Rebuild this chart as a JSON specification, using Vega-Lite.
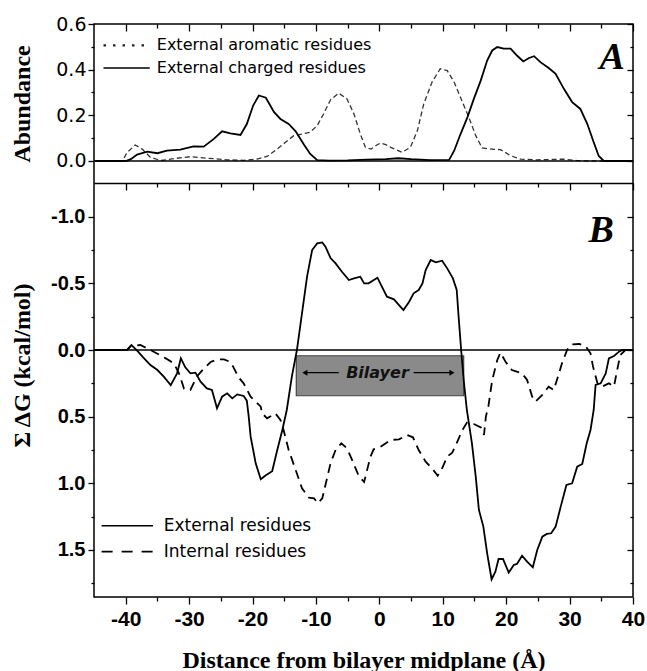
{
 "$schema": "https://vega.github.io/schema/vega-lite/v6.json",
 "width": 539, "height": 573,
 "autosize": {"type": "none"},
 "padding": {"left": 94, "top": 24, "right": 14, "bottom": 74},
 "background": "white",
 "config": {
  "view": {"stroke": "black", "strokeWidth": 1.5},
  "axis": {"grid": false, "domain": false, "tickColor": "black", "tickWidth": 1.3, "labelColor": "black", "titleColor": "black", "labelOverlap": false, "labelFlush": false, "labelBound": false}
 },
 "datasets": {
  "aromatic": [
   {"x":-45,"y":0},{"x":-40.5,"y":0},{"x":-39.8,"y":0.037},{"x":-38.5,"y":0.07},{"x":-37.4,"y":0.052},{"x":-36.1,"y":0.016},{"x":-34.5,"y":0.002},{"x":-31.9,"y":0.012},{"x":-29.8,"y":0.019},{"x":-27,"y":0.012},{"x":-24,"y":0.005},{"x":-21.4,"y":0.003},{"x":-19.3,"y":0.008},{"x":-17.7,"y":0.02},{"x":-16.1,"y":0.053},{"x":-14.8,"y":0.082},{"x":-13.5,"y":0.111},{"x":-12.2,"y":0.118},{"x":-10.9,"y":0.126},{"x":-9.8,"y":0.155},{"x":-8.8,"y":0.206},{"x":-7.7,"y":0.268},{"x":-6.4,"y":0.297},{"x":-5.1,"y":0.272},{"x":-4.0,"y":0.206},{"x":-3.0,"y":0.118},{"x":-2.2,"y":0.06},{"x":-1.3,"y":0.052},{"x":-0.4,"y":0.07},{"x":0.2,"y":0.079},{"x":1.0,"y":0.072},{"x":1.8,"y":0.06},{"x":3.6,"y":0.038},{"x":4.9,"y":0.06},{"x":6.0,"y":0.133},{"x":7.0,"y":0.25},{"x":8.3,"y":0.345},{"x":9.6,"y":0.404},{"x":10.7,"y":0.396},{"x":11.8,"y":0.345},{"x":13.1,"y":0.258},{"x":14.1,"y":0.192},{"x":15.2,"y":0.111},{"x":16.2,"y":0.057},{"x":18.1,"y":0.051},{"x":19.1,"y":0.05},{"x":20.7,"y":0.023},{"x":22.3,"y":0.008},{"x":24.9,"y":0.005},{"x":29.1,"y":0.008},{"x":31.2,"y":0.002},{"x":33,"y":0},{"x":40,"y":0}
  ],
  "charged": [
   {"x":-45,"y":0},{"x":-40,"y":0},{"x":-39.2,"y":0.008},{"x":-38.2,"y":0.028},{"x":-36.6,"y":0.041},{"x":-35.0,"y":0.034},{"x":-33.5,"y":0.045},{"x":-31.4,"y":0.05},{"x":-29.3,"y":0.064},{"x":-27.7,"y":0.063},{"x":-26.1,"y":0.097},{"x":-24.8,"y":0.13},{"x":-23.5,"y":0.121},{"x":-21.9,"y":0.114},{"x":-20.9,"y":0.162},{"x":-19.9,"y":0.243},{"x":-19.0,"y":0.287},{"x":-17.9,"y":0.277},{"x":-16.6,"y":0.214},{"x":-15.6,"y":0.184},{"x":-14.3,"y":0.162},{"x":-13.2,"y":0.13},{"x":-11.9,"y":0.072},{"x":-10.9,"y":0.031},{"x":-9.8,"y":0.004},{"x":-8,"y":0.002},{"x":-5,"y":0.003},{"x":-2,"y":0.006},{"x":1,"y":0.008},{"x":3,"y":0.012},{"x":5,"y":0.008},{"x":8,"y":0.004},{"x":11.0,"y":0.005},{"x":11.8,"y":0.045},{"x":12.8,"y":0.118},{"x":13.9,"y":0.192},{"x":14.9,"y":0.272},{"x":16.0,"y":0.353},{"x":17.0,"y":0.44},{"x":17.8,"y":0.484},{"x":18.6,"y":0.499},{"x":19.6,"y":0.492},{"x":20.7,"y":0.492},{"x":21.7,"y":0.462},{"x":22.7,"y":0.436},{"x":23.6,"y":0.451},{"x":24.4,"y":0.459},{"x":25.4,"y":0.433},{"x":26.7,"y":0.407},{"x":27.8,"y":0.382},{"x":29.1,"y":0.316},{"x":30.4,"y":0.258},{"x":31.7,"y":0.228},{"x":32.8,"y":0.162},{"x":33.8,"y":0.082},{"x":34.6,"y":0.022},{"x":35.4,"y":0},{"x":40,"y":0}
  ],
  "external": [
   {"x":-45,"y":0},{"x":-39.8,"y":0},{"x":-39.1,"y":-0.0375},{"x":-38.2,"y":0.005},{"x":-37.1,"y":0.063},{"x":-36.1,"y":0.113},{"x":-35.0,"y":0.15},{"x":-34.0,"y":0.2},{"x":-32.9,"y":0.263},{"x":-31.9,"y":0.175},{"x":-31.3,"y":0.063},{"x":-30.6,"y":0.13},{"x":-29.8,"y":0.175},{"x":-29.0,"y":0.17},{"x":-28.2,"y":0.238},{"x":-27.2,"y":0.288},{"x":-26.4,"y":0.3},{"x":-25.6,"y":0.4375},{"x":-24.8,"y":0.35},{"x":-24.0,"y":0.325},{"x":-23.2,"y":0.363},{"x":-22.4,"y":0.333},{"x":-21.4,"y":0.345},{"x":-20.9,"y":0.38},{"x":-20.6,"y":0.5},{"x":-20.3,"y":0.65},{"x":-19.5,"y":0.85},{"x":-18.7,"y":0.97},{"x":-17.9,"y":0.94},{"x":-16.9,"y":0.91},{"x":-16.1,"y":0.75},{"x":-15.3,"y":0.6},{"x":-14.6,"y":0.45},{"x":-13.8,"y":0.2},{"x":-13.0,"y":0},{"x":-12.2,"y":-0.275},{"x":-11.4,"y":-0.55},{"x":-10.6,"y":-0.75},{"x":-9.8,"y":-0.8},{"x":-9.0,"y":-0.807},{"x":-8.5,"y":-0.775},{"x":-7.7,"y":-0.69},{"x":-6.9,"y":-0.65},{"x":-5.9,"y":-0.5875},{"x":-4.8,"y":-0.525},{"x":-4.0,"y":-0.5375},{"x":-3.0,"y":-0.55},{"x":-2.4,"y":-0.5},{"x":-1.7,"y":-0.5},{"x":-0.3,"y":-0.5425},{"x":0.4,"y":-0.475},{"x":1.2,"y":-0.4},{"x":2.3,"y":-0.38},{"x":3.1,"y":-0.3375},{"x":3.8,"y":-0.3},{"x":4.7,"y":-0.3625},{"x":5.4,"y":-0.425},{"x":6.2,"y":-0.45},{"x":6.8,"y":-0.5},{"x":7.3,"y":-0.6},{"x":8.1,"y":-0.675},{"x":8.9,"y":-0.6575},{"x":9.9,"y":-0.67},{"x":10.7,"y":-0.6125},{"x":11.6,"y":-0.5375},{"x":12.2,"y":-0.45},{"x":12.5,"y":-0.25},{"x":12.9,"y":0},{"x":13.3,"y":0.225},{"x":13.8,"y":0.45},{"x":14.6,"y":0.7},{"x":15.2,"y":0.95},{"x":15.7,"y":1.2},{"x":16.4,"y":1.325},{"x":17.0,"y":1.525},{"x":17.7,"y":1.72},{"x":18.3,"y":1.663},{"x":18.8,"y":1.568},{"x":19.5,"y":1.568},{"x":20.4,"y":1.67},{"x":21.2,"y":1.613},{"x":21.7,"y":1.605},{"x":22.5,"y":1.543},{"x":23.3,"y":1.588},{"x":24.2,"y":1.63},{"x":24.9,"y":1.5},{"x":25.7,"y":1.4},{"x":26.4,"y":1.38},{"x":27.1,"y":1.375},{"x":27.8,"y":1.325},{"x":28.6,"y":1.175},{"x":29.5,"y":1.0125},{"x":30.4,"y":1.0},{"x":31.2,"y":0.875},{"x":32.0,"y":0.855},{"x":32.7,"y":0.7},{"x":33.3,"y":0.6},{"x":33.8,"y":0.45},{"x":34.1,"y":0.2625},{"x":34.9,"y":0.25},{"x":35.7,"y":0.175},{"x":36.2,"y":0.0625},{"x":37.0,"y":0.045},{"x":37.8,"y":0.0125},{"x":38.3,"y":0},{"x":40,"y":0}
  ],
  "internal": [
   {"x":-45,"y":0},{"x":-39.8,"y":0},{"x":-39.2,"y":-0.03},{"x":-37.7,"y":-0.0375},{"x":-36.6,"y":-0.0125},{"x":-35.3,"y":0.02},{"x":-33.7,"y":0.0625},{"x":-32.4,"y":0.1},{"x":-31.6,"y":0.175},{"x":-30.8,"y":0.29},{"x":-29.8,"y":0.3},{"x":-28.8,"y":0.2},{"x":-27.7,"y":0.14},{"x":-26.6,"y":0.09},{"x":-25.5,"y":0.07},{"x":-24.5,"y":0.07},{"x":-23.5,"y":0.09},{"x":-23.0,"y":0.13},{"x":-22.2,"y":0.205},{"x":-21.4,"y":0.25},{"x":-20.3,"y":0.35},{"x":-18.7,"y":0.425},{"x":-18.5,"y":0.475},{"x":-17.7,"y":0.5125},{"x":-16.4,"y":0.475},{"x":-15.6,"y":0.525},{"x":-15.1,"y":0.6},{"x":-14.3,"y":0.75},{"x":-13.2,"y":0.9},{"x":-12.2,"y":1.0375},{"x":-11.1,"y":1.108},{"x":-10.3,"y":1.1125},{"x":-9.7,"y":1.15},{"x":-9.0,"y":1.1125},{"x":-8.5,"y":1.0125},{"x":-7.7,"y":0.85},{"x":-6.9,"y":0.75},{"x":-6.0,"y":0.7},{"x":-5.1,"y":0.7375},{"x":-4.3,"y":0.825},{"x":-3.2,"y":0.95},{"x":-2.4,"y":0.99},{"x":-1.8,"y":0.875},{"x":-1.4,"y":0.8},{"x":-0.9,"y":0.745},{"x":0.2,"y":0.725},{"x":1.8,"y":0.675},{"x":3.1,"y":0.67},{"x":4.4,"y":0.6375},{"x":5.3,"y":0.655},{"x":6.2,"y":0.75},{"x":7.3,"y":0.8375},{"x":8.3,"y":0.8875},{"x":9.2,"y":0.943},{"x":9.9,"y":0.8875},{"x":10.7,"y":0.8},{"x":11.5,"y":0.77},{"x":12.3,"y":0.6875},{"x":13.1,"y":0.6},{"x":13.8,"y":0.545},{"x":14.9,"y":0.555},{"x":16.0,"y":0.58},{"x":16.5,"y":0.6375},{"x":16.8,"y":0.5},{"x":17.2,"y":0.42},{"x":17.8,"y":0.225},{"x":18.6,"y":0.075},{"x":19.1,"y":0.02},{"x":19.9,"y":0.0875},{"x":20.9,"y":0.15},{"x":22.5,"y":0.175},{"x":23.3,"y":0.225},{"x":24.1,"y":0.35},{"x":24.6,"y":0.3875},{"x":25.7,"y":0.3375},{"x":26.7,"y":0.275},{"x":27.5,"y":0.3},{"x":28.0,"y":0.225},{"x":28.8,"y":0.1},{"x":29.6,"y":0},{"x":30.4,"y":-0.0425},{"x":31.5,"y":-0.045},{"x":32.5,"y":-0.03},{"x":33.3,"y":0.025},{"x":33.7,"y":0.125},{"x":34.4,"y":0.25},{"x":35.1,"y":0.275},{"x":36.2,"y":0.25},{"x":37.0,"y":0.275},{"x":37.5,"y":0.15},{"x":38.0,"y":0.0375},{"x":38.8,"y":0},{"x":40,"y":0}
  ],
  "legendLinesA": [
   {"x":-43.5,"x2":-36.2,"y":0.506,"s":"dot"},
   {"x":-43.5,"x2":-36.2,"y":0.407,"s":"solid"}
  ],
  "legendTextA": [
   {"x":-35.1,"y":0.506,"t":"External aromatic residues"},
   {"x":-35.1,"y":0.407,"t":"External charged residues"}
  ],
  "legendLinesB": [
   {"x":-43.8,"x2":-35.7,"y":1.318,"s":"solid"},
   {"x":-43.8,"x2":-35.7,"y":1.513,"s":"dash"}
  ],
  "legendTextB": [
   {"x":-34.0,"y":1.318,"t":"External residues"},
   {"x":-34.0,"y":1.513,"t":"Internal residues"}
  ]
 },
 "layer": [
  {
   "layer": [
    {
     "data": {"name": "aromatic"},
     "mark": {"type": "line", "stroke": "#333", "strokeWidth": 1.3, "strokeDash": [5, 3]},
     "encoding": {
      "x": {"field": "x", "type": "quantitative", "scale": {"domain": [-45, 40], "nice": false, "zero": false},
            "axis": {"orient": "top", "values": [-40,-35,-30,-25,-20,-15,-10,-5,0,5,10,15,20,25,30,35,40], "labels": false, "tickSize": -7,
                     "tickDash": {"condition": {"test": "datum.value % 10 === 0", "value": [8, 0]}, "value": [4, 20]}, "title": null}},
      "y": {"field": "y", "type": "quantitative", "scale": {"domain": [-0.0964, 0.6], "range": [159, 0], "nice": false, "zero": false},
            "axis": {"orient": "left", "values": [0,0.1,0.2,0.3,0.4,0.5,0.6], "tickSize": 6,
                     "tickDash": {"condition": {"test": "abs(datum.value*5-round(datum.value*5))<0.001", "value": [8, 0]}, "value": [3, 20]},
                     "labelExpr": "abs(datum.value*5-round(datum.value*5))<0.001 ? format(datum.value, '.1f') : ''",
                     "labelFont": "DejaVu Sans", "labelFontSize": 19, "labelPadding": 2,
                     "title": "Abundance", "titleFont": "Liberation Serif", "titleFontSize": 24, "titleFontWeight": "bold",
                     "titleX": -72, "titleBaseline": "middle"}}
     }
    },
    {
     "data": {"name": "charged"},
     "mark": {"type": "line", "stroke": "black", "strokeWidth": 1.8},
     "encoding": {
      "x": {"field": "x", "type": "quantitative", "scale": {"domain": [-45, 40], "nice": false, "zero": false}, "axis": null},
      "y": {"field": "y", "type": "quantitative", "scale": {"domain": [-0.0964, 0.6], "range": [159, 0], "nice": false, "zero": false},
            "axis": {"orient": "right", "values": [0,0.1,0.2,0.3,0.4,0.5,0.6], "labels": false, "tickSize": -6,
                     "tickDash": {"condition": {"test": "abs(datum.value*5-round(datum.value*5))<0.001", "value": [8, 0]}, "value": [3, 20]}, "title": null}}
     }
    },
    {
     "data": {"values": [{}]},
     "mark": {"type": "rule", "color": "black", "strokeWidth": 1.5},
     "encoding": {
      "y": {"datum": 0, "type": "quantitative", "scale": {"domain": [-0.0964, 0.6], "range": [159, 0], "nice": false, "zero": false}, "axis": null}
     }
    },
    {
     "data": {"name": "legendLinesA"},
     "transform": [{"filter": "datum.s === 'dot'"}],
     "mark": {"type": "rule", "color": "#222", "strokeWidth": 2.2, "strokeDash": [2.5, 7]},
     "encoding": {
      "x": {"field": "x", "type": "quantitative", "scale": {"domain": [-45, 40], "nice": false, "zero": false}, "axis": null},
      "x2": {"field": "x2"},
      "y": {"field": "y", "type": "quantitative", "scale": {"domain": [-0.0964, 0.6], "range": [159, 0], "nice": false, "zero": false}, "axis": null}
     }
    },
    {
     "data": {"name": "legendLinesA"},
     "transform": [{"filter": "datum.s === 'solid'"}],
     "mark": {"type": "rule", "color": "black", "strokeWidth": 1.6},
     "encoding": {
      "x": {"field": "x", "type": "quantitative", "scale": {"domain": [-45, 40], "nice": false, "zero": false}, "axis": null},
      "x2": {"field": "x2"},
      "y": {"field": "y", "type": "quantitative", "scale": {"domain": [-0.0964, 0.6], "range": [159, 0], "nice": false, "zero": false}, "axis": null}
     }
    },
    {
     "data": {"name": "legendTextA"},
     "mark": {"type": "text", "align": "left", "baseline": "middle", "font": "DejaVu Sans", "fontSize": 16, "color": "black"},
     "encoding": {
      "x": {"field": "x", "type": "quantitative", "scale": {"domain": [-45, 40], "nice": false, "zero": false}, "axis": null},
      "y": {"field": "y", "type": "quantitative", "scale": {"domain": [-0.0964, 0.6], "range": [159, 0], "nice": false, "zero": false}, "axis": null},
      "text": {"field": "t"}
     }
    },
    {
     "data": {"values": [{"x": 36.7, "y": 0.404, "t": "A"}]},
     "mark": {"type": "text", "align": "center", "baseline": "alphabetic", "font": "Liberation Serif", "fontSize": 38, "fontWeight": "bold", "fontStyle": "italic", "color": "black"},
     "encoding": {
      "x": {"field": "x", "type": "quantitative", "scale": {"domain": [-45, 40], "nice": false, "zero": false}, "axis": null},
      "y": {"field": "y", "type": "quantitative", "scale": {"domain": [-0.0964, 0.6], "range": [159, 0], "nice": false, "zero": false}, "axis": null},
      "text": {"field": "t"}
     }
    }
   ],
   "resolve": {"axis": {"x": "independent", "y": "independent"}}
  },
  {
   "layer": [
    {
     "data": {"values": [{"x": -13.1, "x2": 13.3, "y": 0.043, "y2": 0.343}]},
     "mark": {"type": "rect", "fill": "#8a8a8a", "stroke": "#444", "strokeWidth": 1.2},
     "encoding": {
      "x": {"field": "x", "type": "quantitative", "scale": {"domain": [-45, 40], "nice": false, "zero": false}, "axis": null},
      "x2": {"field": "x2"},
      "y": {"field": "y", "type": "quantitative", "scale": {"domain": [-1.253, 1.853], "range": [159, 573], "nice": false, "zero": false}, "axis": null},
      "y2": {"field": "y2"}
     }
    },
    {
     "data": {"name": "external"},
     "mark": {"type": "line", "stroke": "black", "strokeWidth": 1.8},
     "encoding": {
      "x": {"field": "x", "type": "quantitative", "scale": {"domain": [-45, 40], "nice": false, "zero": false},
            "axis": {"orient": "bottom", "values": [-40,-35,-30,-25,-20,-15,-10,-5,0,5,10,15,20,25,30,35,40], "tickSize": 7,
                     "tickDash": {"condition": {"test": "datum.value % 10 === 0", "value": [8, 0]}, "value": [4, 20]},
                     "labelExpr": "datum.value % 10 === 0 ? (datum.value < 0 ? '-' + abs(datum.value) : '' + datum.value) : ''",
                     "labelFont": "Liberation Sans", "labelFontSize": 21, "labelFontWeight": "bold", "labelPadding": 4,
                     "title": "Distance from bilayer midplane (Å)", "titleFont": "Liberation Serif", "titleFontSize": 24, "titleFontWeight": "bold",
                     "titleY": 70, "titleBaseline": "alphabetic"}},
      "y": {"field": "y", "type": "quantitative", "scale": {"domain": [-1.253, 1.853], "range": [159, 573], "nice": false, "zero": false},
            "axis": {"orient": "left", "values": [-1,-0.75,-0.5,-0.25,0,0.25,0.5,0.75,1,1.25,1.5,1.75], "tickSize": 6,
                     "tickDash": {"condition": {"test": "abs(datum.value*2-round(datum.value*2))<0.001", "value": [8, 0]}, "value": [3, 20]},
                     "labelExpr": "abs(datum.value*2-round(datum.value*2))<0.001 ? (datum.value < -0.001 ? '-' : '') + format(abs(datum.value), '.1f') : ''",
                     "labelFont": "Liberation Sans", "labelFontSize": 20, "labelFontWeight": "bold", "labelPadding": 3,
                     "title": "Σ ΔG (kcal/mol)", "titleFont": "Liberation Serif", "titleFontSize": 24, "titleFontWeight": "bold",
                     "titleX": -72, "titleY": 341, "titleBaseline": "middle"}}
     }
    },
    {
     "data": {"name": "internal"},
     "mark": {"type": "line", "stroke": "black", "strokeWidth": 1.8, "strokeDash": [9, 6]},
     "encoding": {
      "x": {"field": "x", "type": "quantitative", "scale": {"domain": [-45, 40], "nice": false, "zero": false},
            "axis": {"orient": "top", "offset": -159, "domain": true, "domainColor": "black", "domainWidth": 1.5,
                     "values": [-40,-35,-30,-25,-20,-15,-10,-5,0,5,10,15,20,25,30,35,40], "labels": false, "tickSize": -7,
                     "tickDash": {"condition": {"test": "datum.value % 10 === 0", "value": [8, 0]}, "value": [4, 20]}, "title": null}},
      "y": {"field": "y", "type": "quantitative", "scale": {"domain": [-1.253, 1.853], "range": [159, 573], "nice": false, "zero": false},
            "axis": {"orient": "right", "values": [-1,-0.75,-0.5,-0.25,0,0.25,0.5,0.75,1,1.25,1.5,1.75], "labels": false, "tickSize": -6,
                     "tickDash": {"condition": {"test": "abs(datum.value*2-round(datum.value*2))<0.001", "value": [8, 0]}, "value": [3, 20]}, "title": null}}
     }
    },
    {
     "data": {"values": [{}]},
     "mark": {"type": "rule", "color": "black", "strokeWidth": 1.5},
     "encoding": {
      "y": {"datum": 0, "type": "quantitative", "scale": {"domain": [-1.253, 1.853], "range": [159, 573], "nice": false, "zero": false}, "axis": null}
     }
    },
    {
     "data": {"values": [{"x": -11.75, "x2": -6.4, "y": 0.17}, {"x": 5.4, "x2": 11.45, "y": 0.17}]},
     "mark": {"type": "rule", "color": "black", "strokeWidth": 1.3},
     "encoding": {
      "x": {"field": "x", "type": "quantitative", "scale": {"domain": [-45, 40], "nice": false, "zero": false}, "axis": null},
      "x2": {"field": "x2"},
      "y": {"field": "y", "type": "quantitative", "scale": {"domain": [-1.253, 1.853], "range": [159, 573], "nice": false, "zero": false}, "axis": null}
     }
    },
    {
     "data": {"values": [{"x": -11.75, "y": 0.17, "shape": "triangle-left"}, {"x": 11.45, "y": 0.17, "shape": "triangle-right"}]},
     "mark": {"type": "point", "filled": true, "color": "black", "size": 35, "opacity": 1},
     "encoding": {
      "x": {"field": "x", "type": "quantitative", "scale": {"domain": [-45, 40], "nice": false, "zero": false}, "axis": null},
      "y": {"field": "y", "type": "quantitative", "scale": {"domain": [-1.253, 1.853], "range": [159, 573], "nice": false, "zero": false}, "axis": null},
      "shape": {"field": "shape", "type": "nominal", "scale": null}
     }
    },
    {
     "data": {"values": [{"x": -0.3, "y": 0.175, "t": "Bilayer"}]},
     "mark": {"type": "text", "align": "center", "baseline": "middle", "font": "DejaVu Sans", "fontSize": 16, "fontWeight": "bold", "fontStyle": "italic", "color": "#111"},
     "encoding": {
      "x": {"field": "x", "type": "quantitative", "scale": {"domain": [-45, 40], "nice": false, "zero": false}, "axis": null},
      "y": {"field": "y", "type": "quantitative", "scale": {"domain": [-1.253, 1.853], "range": [159, 573], "nice": false, "zero": false}, "axis": null},
      "text": {"field": "t"}
     }
    },
    {
     "data": {"name": "legendLinesB"},
     "transform": [{"filter": "datum.s === 'solid'"}],
     "mark": {"type": "rule", "color": "black", "strokeWidth": 1.6},
     "encoding": {
      "x": {"field": "x", "type": "quantitative", "scale": {"domain": [-45, 40], "nice": false, "zero": false}, "axis": null},
      "x2": {"field": "x2"},
      "y": {"field": "y", "type": "quantitative", "scale": {"domain": [-1.253, 1.853], "range": [159, 573], "nice": false, "zero": false}, "axis": null}
     }
    },
    {
     "data": {"name": "legendLinesB"},
     "transform": [{"filter": "datum.s === 'dash'"}],
     "mark": {"type": "rule", "color": "black", "strokeWidth": 1.8, "strokeDash": [11, 9]},
     "encoding": {
      "x": {"field": "x", "type": "quantitative", "scale": {"domain": [-45, 40], "nice": false, "zero": false}, "axis": null},
      "x2": {"field": "x2"},
      "y": {"field": "y", "type": "quantitative", "scale": {"domain": [-1.253, 1.853], "range": [159, 573], "nice": false, "zero": false}, "axis": null}
     }
    },
    {
     "data": {"name": "legendTextB"},
     "mark": {"type": "text", "align": "left", "baseline": "middle", "font": "DejaVu Sans", "fontSize": 17, "color": "black"},
     "encoding": {
      "x": {"field": "x", "type": "quantitative", "scale": {"domain": [-45, 40], "nice": false, "zero": false}, "axis": null},
      "y": {"field": "y", "type": "quantitative", "scale": {"domain": [-1.253, 1.853], "range": [159, 573], "nice": false, "zero": false}, "axis": null},
      "text": {"field": "t"}
     }
    },
    {
     "data": {"values": [{"x": 35.0, "y": -0.8125, "t": "B"}]},
     "mark": {"type": "text", "align": "center", "baseline": "alphabetic", "font": "Liberation Serif", "fontSize": 38, "fontWeight": "bold", "fontStyle": "italic", "color": "black"},
     "encoding": {
      "x": {"field": "x", "type": "quantitative", "scale": {"domain": [-45, 40], "nice": false, "zero": false}, "axis": null},
      "y": {"field": "y", "type": "quantitative", "scale": {"domain": [-1.253, 1.853], "range": [159, 573], "nice": false, "zero": false}, "axis": null},
      "text": {"field": "t"}
     }
    }
   ],
   "resolve": {"axis": {"x": "independent", "y": "independent"}}
  }
 ],
 "resolve": {"scale": {"y": "independent"}, "axis": {"x": "independent", "y": "independent"}}
}
